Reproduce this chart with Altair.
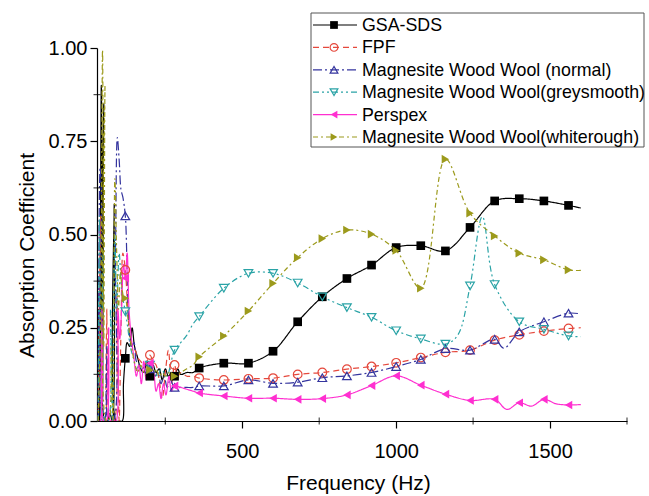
import altair as alt
import pandas as pd

FONT = "Liberation Sans"

SERIES = ["GSA-SDS", "FPF", "Magnesite Wood Wool (normal)",
          "Magnesite Wood Wool(greysmooth)", "Perspex",
          "Magnesite Wood Wool(whiterough)"]
COLORS = ["#000000", "#e5483c", "#34349e", "#2aa3a6", "#ff2fd0", "#9c9a1c"]
DASHES = [[1, 0], [6, 4], [9, 3, 2, 3], [6, 3, 2, 3, 2, 3], [1, 0], [5, 3, 2, 3]]
SHAPES = ["square", "circle", "triangle-up", "triangle-down", "triangle-left", "triangle-right"]
FILLED = [True, False, False, False, True, True]

# marker frequencies (Hz) and marker values per series
MARK_F = [120, 200, 280, 360, 440, 520, 600, 680, 760, 840, 920, 1000,
          1080, 1160, 1240, 1320, 1400, 1480, 1560]
GSA_M = [0.168, 0.120, 0.120, 0.142, 0.155, 0.155, 0.187, 0.266, 0.333, 0.382, 0.418, 0.465,
         0.470, 0.456, 0.519, 0.590, 0.596, 0.590, 0.578]
FPF_M = [0.405, 0.177, 0.150, 0.115, 0.110, 0.113, 0.115, 0.125, 0.130, 0.139, 0.146, 0.156,
         0.170, 0.184, 0.190, 0.217, 0.231, 0.241, 0.248]
NOR_M = [0.550, 0.140, 0.090, 0.094, 0.094, 0.110, 0.101, 0.104, 0.116, 0.121, 0.130, 0.146,
         0.165, 0.194, 0.190, 0.219, 0.239, 0.266, 0.289]
GRS_M = [0.293, 0.150, 0.190, 0.280, 0.356, 0.396, 0.396, 0.370, 0.333, 0.304, 0.278, 0.242,
         0.220, 0.206, 0.362, 0.366, 0.266, 0.246, 0.228]
PER_M = [0.383, 0.155, 0.094, 0.075, 0.067, 0.061, 0.061, 0.058, 0.060, 0.070, 0.095, 0.121,
         0.096, 0.072, 0.055, 0.058, 0.049, 0.058, 0.043]
WHR_M = [0.329, 0.137, 0.120, 0.172, 0.228, 0.295, 0.369, 0.438, 0.489, 0.512, 0.501, 0.457,
         0.356, 0.702, 0.557, 0.496, 0.450, 0.432, 0.405]

# additional (unmarked) measured points of each curve
GSA_XF = [32, 36, 42, 46, 50, 54, 62, 70, 78, 84, 90, 100, 110, 114, 126, 134, 142, 150, 160,
          170, 180, 190, 210, 220, 230, 240, 250, 260, 270, 290, 300, 320, 340, 1600]
GSA_XV = [0.30, 0.0, 0.90, 0.05, 0.85, 0.0, 0.0, 0.02, 0.0, 0.58, 0.0, 0.0, 0.0, 0.10, 0.21,
          0.20, 0.25, 0.20, 0.17, 0.14, 0.13, 0.16, 0.15, 0.13, 0.14, 0.11, 0.14, 0.12, 0.13,
          0.14, 0.125, 0.13, 0.13, 0.571]
FPF_XF = [32, 40, 46, 54, 60, 66, 76, 84, 92, 100, 106, 112, 128, 136, 144, 152, 160, 170, 180,
          190, 210, 220, 230, 240, 250, 260, 270, 290, 300, 320, 340, 1600]
FPF_XV = [0.0, 0.55, 0.0, 0.0, 0.30, 0.0, 0.0, 0.0, 0.35, 0.0, 0.25, 0.45, 0.30, 0.22, 0.20,
          0.19, 0.17, 0.16, 0.15, 0.16, 0.16, 0.15, 0.11, 0.06, 0.13, 0.19, 0.10, 0.12, 0.13,
          0.12, 0.12, 0.250]
NOR_XF = [32, 38, 42, 46, 52, 60, 66, 80, 88, 94, 100, 106, 112, 126, 132, 140, 148, 156, 166,
          176, 186, 206, 216, 226, 236, 246, 256, 266, 300, 320, 340, 1350, 1600]
NOR_XV = [0.0, 0.68, 0.62, 0.0, 0.0, 0.20, 0.0, 0.0, 0.45, 0.76, 0.70, 0.62, 0.60, 0.40, 0.25,
          0.20, 0.21, 0.16, 0.15, 0.14, 0.15, 0.14, 0.12, 0.13, 0.10, 0.12, 0.09, 0.11, 0.09,
          0.09, 0.09, 0.195, 0.287]
GRS_XF = [32, 36, 40, 48, 54, 64, 72, 78, 86, 92, 100, 108, 114, 128, 136, 146, 156, 166, 176,
          186, 196, 206, 216, 226, 236, 246, 256, 264, 300, 320, 340, 1200, 1280, 1600]
GRS_XV = [0.0, 0.55, 0.0, 0.45, 0.0, 0.0, 0.30, 0.0, 0.50, 0.30, 0.45, 0.35, 0.32, 0.25, 0.20,
          0.17, 0.14, 0.15, 0.13, 0.14, 0.12, 0.15, 0.13, 0.12, 0.14, 0.13, 0.12, 0.14, 0.21,
          0.23, 0.26, 0.23, 0.548, 0.226]
PER_XF = [32, 38, 44, 50, 58, 66, 72, 84, 90, 96, 102, 108, 114, 126, 132, 140, 148, 156, 164,
          172, 180, 188, 212, 220, 228, 236, 244, 252, 262, 270, 300, 320, 340, 1360, 1440, 1520,
          1600]
PER_XV = [0.0, 0.0, 0.30, 0.0, 0.0, 0.25, 0.0, 0.0, 0.0, 0.30, 0.22, 0.30, 0.42, 0.45, 0.30,
          0.22, 0.17, 0.12, 0.15, 0.10, 0.16, 0.11, 0.13, 0.08, 0.10, 0.06, 0.10, 0.07, 0.12,
          0.08, 0.09, 0.085, 0.08, 0.031, 0.040, 0.046, 0.044]
WHR_XF = [32, 40, 46, 50, 54, 58, 66, 74, 80, 86, 92, 98, 104, 110, 116, 128, 136, 144, 152,
          160, 170, 180, 190, 210, 220, 230, 240, 250, 260, 270, 300, 320, 340, 1600]
WHR_XV = [0.0, 0.30, 0.995, 0.20, 0.90, 0.0, 0.0, 0.20, 0.0, 0.65, 0.45, 0.30, 0.40, 0.35, 0.33,
          0.28, 0.22, 0.18, 0.15, 0.13, 0.15, 0.13, 0.12, 0.12, 0.14, 0.12, 0.13, 0.12, 0.13,
          0.12, 0.13, 0.14, 0.15, 0.404]

MARKS = [GSA_M, FPF_M, NOR_M, GRS_M, PER_M, WHR_M]
EXTRA_F = [GSA_XF, FPF_XF, NOR_XF, GRS_XF, PER_XF, WHR_XF]
EXTRA_V = [GSA_XV, FPF_XV, NOR_XV, GRS_XV, PER_XV, WHR_XV]

X_TICKS = [500, 1000, 1500]
X_MINOR = [250, 750, 1250, 1750]
Y_TICKS = [0, 0.25, 0.5, 0.75, 1.0]
Y_MINOR = [0.125, 0.375, 0.625, 0.875]

W, H = 530, 373
xscale = alt.Scale(domain=[28, 1750], nice=False, zero=False)
yscale = alt.Scale(domain=[0, 1], nice=False)

xaxis = alt.Axis(values=X_TICKS, format="d", title="Frequency (Hz)", tickSize=7,
                 labelFontSize=20, titleFontSize=21, labelPadding=13,
                 titleBaseline="middle", titleY=62, titleX=W / 2 - 4)
yaxis = alt.Axis(values=Y_TICKS, format=".2f", title="Absorption Coefficient", tickSize=7,
                 labelFontSize=20, titleFontSize=21, labelPadding=3,
                 titleBaseline="middle", titleX=-70, titleY=207)

def X(field="f"):
    return alt.X(f"{field}:Q", scale=xscale, axis=xaxis)

def Y(field="a"):
    return alt.Y(f"{field}:Q", scale=yscale, axis=yaxis)

layers = []
for i, name in enumerate(SERIES):
    rows = [(f, v) for f, v in zip(MARK_F, MARKS[i])] + list(zip(EXTRA_F[i], EXTRA_V[i]))
    rows.sort()
    df = pd.DataFrame({"f": [r[0] for r in rows], "a": [r[1] for r in rows], "s": name})
    layers.append(alt.Chart(df).mark_line(interpolate="catmull-rom", clip=True,
                                          color=COLORS[i], strokeDash=DASHES[i],
                                          strokeWidth=1.2).encode(x=X(), y=Y()))
for i, name in enumerate(SERIES):
    dm = pd.DataFrame({"f": MARK_F, "a": MARKS[i]})
    layers.append(alt.Chart(dm).mark_point(shape=SHAPES[i], filled=FILLED[i], size=75,
                                           color=COLORS[i], strokeWidth=1.2, opacity=1,
                                           clip=True)
                  .encode(x=X(), y=Y()))

# minor ticks
layers.append(alt.Chart(pd.DataFrame({"f": X_MINOR})).mark_tick(color="black", size=7,
                                                                 thickness=1.2)
              .encode(x=X(), y=alt.value(H)))
layers.append(alt.Chart(pd.DataFrame({"a": Y_MINOR})).mark_tick(color="black", size=7,
                                                                 thickness=1.2, orient="horizontal")
              .encode(y=Y(), x=alt.value(0)))

# legend box
one = pd.DataFrame({"k": [0]})
layers.append(alt.Chart(one).mark_rect(fill="white", stroke="#555555", strokeWidth=1)
              .encode(x=alt.value(214), x2=alt.value(547), y=alt.value(-35), y2=alt.value(99)))
for i, name in enumerate(SERIES):
    yy = -23 + i * 22.4
    dn = pd.DataFrame({"name": [name]})
    layers.append(alt.Chart(dn).mark_rule(color=COLORS[i], strokeDash=DASHES[i], strokeWidth=1.2)
                  .encode(x=alt.value(216), x2=alt.value(260), y=alt.value(yy)))
    layers.append(alt.Chart(dn).mark_point(shape=SHAPES[i], filled=FILLED[i], size=60,
                                           color=COLORS[i], strokeWidth=1.2, opacity=1)
                  .encode(x=alt.value(237), y=alt.value(yy)))
    layers.append(alt.Chart(dn).mark_text(align="left", baseline="middle", fontSize=17.8,
                                          font=FONT, color="black")
                  .encode(x=alt.value(265), y=alt.value(yy + 1), text="name:N"))

chart = alt.layer(*layers).properties(
    width=W, height=H,
    autosize=alt.AutoSizeParams(type="none"),
    padding={"left": 97, "top": 48, "right": 22, "bottom": 75},
    background="white",
).configure_view(stroke=None).configure_axis(
    grid=False, domainColor="black", tickColor="black", labelColor="black",
    titleColor="black", labelFont=FONT, titleFont=FONT, titleFontWeight="normal",
    domainWidth=1.2, tickWidth=1.2,
)

chart.save("out.html", embed_options={"renderer": "svg", "actions": False})
